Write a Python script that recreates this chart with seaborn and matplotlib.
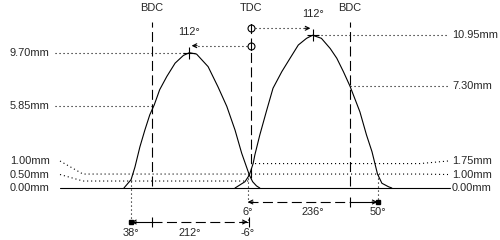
import matplotlib
matplotlib.use("Agg")
import numpy as np
import pandas as pd
import matplotlib.pyplot as plt
import seaborn as sns

# ---------------- data (crank degrees, 0 = overlap TDC; lift in mm) ----------------
exh_angle = [-231, -218, -211, -202, -193, -184, -176, -166, -153, -138, -123, -112,
             -99, -78, -60, -44, -29, -17, -3, 3, 10, 16]
exh_lift = [0, 0.6, 1.5, 2.95, 4.15, 5.25, 5.95, 7.05, 8.0, 8.95, 9.5, 9.70,
            9.6, 8.7, 7.25, 5.85, 4.15, 2.5, 0.93, 0.45, 0.15, 0]
int_angle = [-29, -11, -3, 4, 7, 16, 28, 40, 56, 71, 86, 101, 112, 128, 144, 156,
             168, 180, 198, 210, 220, 230, 238, 250, 256]
int_lift = [0, 0.45, 0.93, 1.77, 2.37, 3.8, 5.5, 7.15, 8.34, 9.3, 10.25, 10.73, 10.95,
            10.73, 10.0, 9.3, 8.34, 7.30, 5.46, 3.8, 2.6, 1.0, 0.34, 0.09, 0]

dead_centre_labels = ["BDC", "TDC", "BDC"]
dead_centre_angles = [-180, 0, 180]
exh_peak_lift, int_peak_lift = 9.70, 10.95
exh_bdc_lift, int_bdc_lift = 5.85, 7.30
exh_check = [1.00, 0.50]
int_check = [1.75, 1.00]
lobe_centre = 112
exh_open_bbdc, exh_close_atdc = 38, -6
int_open_btdc, int_close_abdc = 6, 50

# ---------------- layout ----------------
W, H, DPI = 500, 240, 100
PX_DEG, TDC_PX, PX_MM, ZERO_PX = 0.55, 251, 13.95, 188
XLIM = (-TDC_PX / PX_DEG, (W - TDC_PX) / PX_DEG)
YLIM = (-(H - ZERO_PX) / PX_MM, ZERO_PX / PX_MM)


def hx(px):
    return XLIM[0] + px / W * (XLIM[1] - XLIM[0])


def vy(py):
    return YLIM[1] - py / H * (YLIM[1] - YLIM[0])


sns.set_style("white")
plt.rcParams['font.family'] = ['Liberation Sans', 'DejaVu Sans']
FS = 7.9
K = 'black'
LW = 0.8
DOT = dict(color=K, lw=LW, ls=(0, (1, 2.6)))
DASH = dict(color=K, lw=LW, ls=(0, (9, 4)))
SOLID = dict(color=K, lw=LW)

fig = plt.figure(figsize=(W / DPI, H / DPI), dpi=DPI)
ax = fig.add_axes([0, 0, 1, 1])

df = pd.concat([
    pd.DataFrame({'angle': exh_angle, 'lift': exh_lift, 'valve': 'Exhaust'}),
    pd.DataFrame({'angle': int_angle, 'lift': int_lift, 'valve': 'Intake'}),
])
sns.lineplot(data=df, x='angle', y='lift', hue='valve', palette=[K, K],
             sort=False, estimator=None, legend=False, ax=ax, lw=LW)
ax.set_xlim(XLIM)
ax.set_ylim(YLIM)
ax.axis('off')


def head(tip, y, direction):
    # direction = -1 -> arrow points left, +1 -> points right
    ax.annotate('', xy=(tip, y), xytext=(tip - direction * 10, y),
                arrowprops=dict(arrowstyle='->', lw=LW, color=K, mutation_scale=7,
                                shrinkA=0, shrinkB=0))


# dead centre lines + labels
top = vy(22)
for lab, a in zip(dead_centre_labels, dead_centre_angles):
    bottom = vy(178) if a == 0 else vy(186)
    ax.plot([a, a], [bottom, top], **DASH)
    ax.text(a, vy(8), lab, ha='center', va='center', fontsize=FS)

# peaks
exh_peak_angle = -lobe_centre
int_peak_angle = lobe_centre
ax.plot([exh_peak_angle, int_peak_angle], [exh_peak_lift, int_peak_lift], ls='none',
        marker='+', ms=9, mew=LW, color=K)

# lobe centre arrows from TDC
for sign, pk in [(-1, exh_peak_lift), (1, int_peak_lift)]:
    ya = pk + 0.5
    tip = sign * (lobe_centre - 4)
    ax.plot([0, tip], [ya, ya], **DOT)
    head(tip, ya, sign)
    ax.plot([0], [ya], marker='o', ms=5, mfc='white', mec=K, mew=LW)
    ax.plot([0, 0], [ya - 0.3, ya + 0.3], **SOLID)
    ax.text(sign * lobe_centre, ya + 1.0, f"{lobe_centre}°", ha='center', va='center',
            fontsize=FS)

# left labels / reference lines
ax.plot([hx(55), exh_peak_angle], [exh_peak_lift] * 2, **DOT)
ax.text(hx(10), exh_peak_lift, f"{exh_peak_lift:.2f}mm", ha='left', va='center', fontsize=FS)
ax.plot([hx(55), -180], [exh_bdc_lift] * 2, **DOT)
ax.text(hx(10), exh_bdc_lift, f"{exh_bdc_lift:.2f}mm", ha='left', va='center', fontsize=FS)
for i, v in enumerate(sorted(exh_check)):
    ly = vy(ZERO_PX - 13.5 * (i + 1))
    ax.plot([hx(60), hx(83), 0], [ly, v, v], **DOT)
    ax.text(hx(10), ly, f"{v:.2f}mm", ha='left', va='center', fontsize=FS)
ax.text(hx(10), 0, "0.00mm", ha='left', va='center', fontsize=FS)

# right labels / reference lines
ax.plot([int_peak_angle, hx(448)], [int_peak_lift] * 2, **DOT)
ax.text(hx(452), int_peak_lift, f"{int_peak_lift:.2f}mm", ha='left', va='center', fontsize=FS)
ax.plot([180, hx(448)], [int_bdc_lift] * 2, **DOT)
ax.text(hx(452), int_bdc_lift, f"{int_bdc_lift:.2f}mm", ha='left', va='center', fontsize=FS)
for i, v in enumerate(sorted(int_check)):
    ly = vy(ZERO_PX - 13.5 * (i + 1))
    ax.plot([0, hx(420), hx(448)], [v, v, ly], **DOT)
    ax.text(hx(452), ly, f"{v:.2f}mm", ha='left', va='center', fontsize=FS)
ax.text(hx(452), 0, "0.00mm", ha='left', va='center', fontsize=FS)

# baseline
ax.plot([hx(60), hx(450)], [0, 0], **SOLID)

# ---------------- timing arrows ----------------
y_up, y_up_t = vy(202), vy(212)
y_lo, y_lo_t = vy(222), vy(233)

# intake
i_open = -int_open_btdc
i_close = 180 + int_close_abdc
i_dur = int_open_btdc + 180 + int_close_abdc
ax.plot([i_open, i_open], [min(int_check), y_up], **DOT)
ax.plot([i_close, i_close], [min(int_check), y_up], **DOT)
ax.plot([i_open, 180], [y_up] * 2, **DASH)
ax.plot([180, i_close], [y_up] * 2, **SOLID)
head(i_open, y_up, -1)
head(i_close, y_up, 1)
ax.plot([i_close], [y_up], marker='s', ms=2.2, color=K)
ax.plot([180], [y_up], marker='|', ms=7, mew=LW, color=K)
ax.text(i_open, y_up_t, f"{int_open_btdc}°", ha='center', va='center', fontsize=FS)
ax.text((i_open + i_close) / 2, y_up_t, f"{i_dur}°", ha='center', va='center', fontsize=FS)
ax.text(i_close, y_up_t, f"{int_close_abdc}°", ha='center', va='center', fontsize=FS)

# exhaust
e_open = -180 - exh_open_bbdc
e_close = exh_close_atdc
e_dur = exh_open_bbdc + 180 + exh_close_atdc
ax.plot([e_open, e_open], [min(exh_check), y_lo], **DOT)
ax.plot([e_close, e_close], [y_up_t - 0.5, y_lo], **DOT)
ax.plot([e_open, -180], [y_lo] * 2, **SOLID)
ax.plot([-180, e_close], [y_lo] * 2, **DASH)
head(e_open, y_lo, -1)
head(e_close, y_lo, 1)
ax.plot([e_open], [y_lo], marker='s', ms=2.2, color=K)
ax.plot([-180, e_close + 3], [y_lo] * 2, ls='none', marker='|', ms=7, mew=LW, color=K)
ax.text(e_open, y_lo_t, f"{exh_open_bbdc}°", ha='center', va='center', fontsize=FS)
ax.text((e_open + e_close) / 2, y_lo_t, f"{e_dur}°", ha='center', va='center', fontsize=FS)
ax.text(e_close, y_lo_t, f"{exh_close_atdc}°", ha='center', va='center', fontsize=FS)

fig.savefig("out.png", dpi=DPI, facecolor='white')
